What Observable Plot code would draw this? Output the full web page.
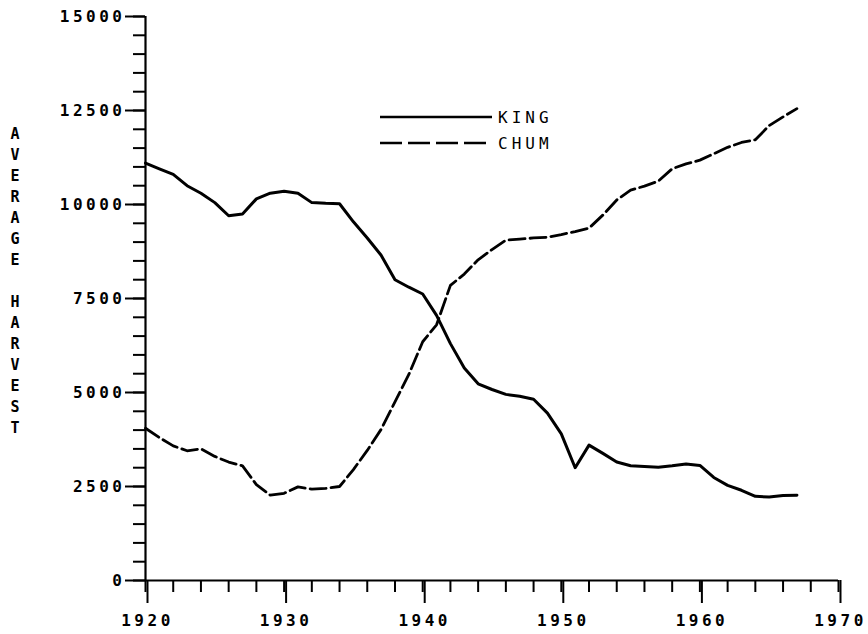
<!DOCTYPE html>
<html>
<head>
<meta charset="utf-8">
<script src="https://cdn.jsdelivr.net/npm/d3@7"></script>
<script src="https://cdn.jsdelivr.net/npm/@observablehq/plot@0.6"></script>
<style>
  html, body { margin: 0; padding: 0; background: #fff; }
  #wrap { position: relative; width: 868px; height: 634px; overflow: hidden; }
  #ytitle { position: absolute; left: 4px; top: 124px; width: 22px; font-family: "DejaVu Sans Mono", monospace; font-weight: bold; font-size: 15px; line-height: 21px; text-align: center; color: #000; }
  .lg { position: absolute; left: 380px; height: 18px; display: flex; align-items: center; font-family: "DejaVu Sans Mono", monospace; font-size: 16px; letter-spacing: 4px; color: #000; }
  .lg svg { margin-right: 6px; }
</style>
</head>
<body>
<div id="wrap">
  <div id="chart"></div>
  <div id="ytitle"></div>
  <div class="lg" style="top:108px"><svg width="112" height="18"><line x1="0" y1="9" x2="112" y2="9" stroke="#000" stroke-width="2.4"/></svg><span id="lg1"></span></div>
  <div class="lg" style="top:134px"><svg width="112" height="18"><line x1="0" y1="9" x2="112" y2="9" stroke="#000" stroke-width="2.4" stroke-dasharray="22,6"/></svg><span id="lg2"></span></div>
</div>
<script>
const years = d3.range(1920, 1968);
const king = [11100, 10950, 10800, 10500, 10300, 10050, 9700, 9750, 10150, 10300,
              10350, 10300, 10050, 10030, 10020, 9540, 9110, 8650, 8000, 7800,
              7620, 7050, 6300, 5650, 5230, 5080, 4950, 4900, 4820, 4450,
              3900, 3000, 3600, 3380, 3150, 3050, 3030, 3010, 3050, 3100,
              3060, 2740, 2530, 2400, 2240, 2220, 2260, 2270];
const chum = [4050, 3800, 3580, 3450, 3500, 3300, 3150, 3050, 2550, 2270,
              2320, 2490, 2430, 2450, 2500, 2950, 3460, 4020, 4750, 5480,
              6350, 6800, 7850, 8150, 8530, 8800, 9050, 9080, 9110, 9130,
              9200, 9280, 9370, 9720, 10120, 10380, 10490, 10620, 10950, 11080,
              11180, 11350, 11520, 11650, 11720, 12100, 12330, 12550];
const seriesNames = ["KING", "CHUM"];
const yTitle = "AVERAGE HARVEST";
const xMajor = [1920, 1930, 1940, 1950, 1960, 1970];
const xMinor = d3.range(1920, 1971, 2);
const yMajor = [0, 2500, 5000, 7500, 10000, 12500, 15000];
const yMinor = d3.range(0, 15001, 500);

const plot = Plot.plot({
  width: 868,
  height: 634,
  marginLeft: 145,
  marginRight: 30,
  marginTop: 16,
  marginBottom: 54,
  x: {domain: [1920, 1970], label: null},
  y: {domain: [0, 15000], label: null},
  style: {fontFamily: "DejaVu Sans Mono, monospace", fontSize: "16px", fontWeight: "bold", color: "#000", background: "#fff", letterSpacing: "3.5px"},
  marks: [
    Plot.axisY({ticks: yMinor, tickSize: 12, tickFormat: () => "", strokeWidth: 2, label: null}),
    Plot.axisY({ticks: yMajor, tickSize: 20, tickPadding: 0, tickFormat: d => String(d), strokeWidth: 2, label: null}),
    Plot.axisX({ticks: xMinor, tickSize: 12, tickFormat: () => "", strokeWidth: 2, label: null}),
    Plot.axisX({ticks: xMajor, tickSize: 23, tickPadding: 11, tickFormat: d => String(d), strokeWidth: 2, label: null, dx: 2}),
    Plot.ruleY([0], {strokeWidth: 2.2}),
    Plot.ruleX([1920], {strokeWidth: 2.2}),
    Plot.line(years, {x: d => d, y: (d, i) => king[i], stroke: "#000", strokeWidth: 3, strokeLinejoin: "round", strokeLinecap: "round"}),
    Plot.line(years, {x: d => d, y: (d, i) => chum[i], stroke: "#000", strokeWidth: 2.8, strokeDasharray: "16,5"})
  ]
});
document.getElementById("chart").appendChild(plot);
document.getElementById("ytitle").innerHTML = yTitle.split("").map(c => c === " " ? "&nbsp;" : c).join("<br>");
document.getElementById("lg1").textContent = seriesNames[0];
document.getElementById("lg2").textContent = seriesNames[1];
</script>
</body>
</html>
